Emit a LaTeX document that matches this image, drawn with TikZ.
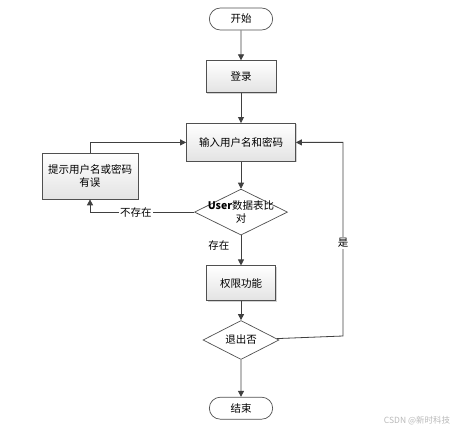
\documentclass[tikz,border=0pt]{standalone}
\usepackage{fontspec}
\setmainfont{Noto Sans CJK SC}
\usetikzlibrary{arrows.meta,positioning,shapes.geometric,shapes.misc,shadows}
\definecolor{lineg}{RGB}{64,64,64}
\definecolor{edgeg}{RGB}{80,80,80}

\begin{document}
\begin{tikzpicture}[
  x=1pt, y=-1pt,
  font=\fontsize{10.5}{13}\selectfont,
  node distance=30pt,
  term/.style={draw=edgeg, rounded rectangle, minimum width=70pt, minimum height=22pt, fill=white, line width=0.7pt},
  proc/.style={draw=edgeg, rectangle, minimum width=70pt, minimum height=32pt, align=center, top color=white, bottom color=gray!22, line width=0.7pt, drop shadow={shadow xshift=1pt, shadow yshift=-1pt, opacity=0.35}},
  decide/.style={draw=edgeg, diamond, aspect=2, inner sep=0pt, fill=white, line width=0.7pt},
  arrow/.style={-{Triangle[width=6pt,length=6pt]}, draw=lineg, line width=0.8pt}
]
\useasboundingbox (0,0) rectangle (458,433);

\node[term] (start) at (241,19) {开始};
\node[proc, below=30pt of start] (login) {登录};
\node[proc, below=30pt of login, minimum width=109pt, minimum height=38pt] (input) {输入用户名和密码};
\node[decide, below=27pt of input, minimum width=93pt, minimum height=46pt,
  label={[align=center, inner sep=0pt]center:\textbf{User}数据表比\\对}] (check) {};
\node[proc, below=30pt of check, minimum width=69pt, minimum height=35pt] (perm) {权限功能};
\node[decide, below=19pt of perm, minimum width=76pt, minimum height=39pt] (quit) {退出否};
\node[term, below=37pt of quit] (stop) {结束};
\node[proc, minimum width=96pt, minimum height=46pt] (hint) at (90,176) {提示用户名或密码\\有误};
\coordinate (back) at (343,336);

\draw[arrow] (start) -- (login);
\draw[arrow] (login) -- (input);
\draw[arrow] (input) -- (check);
\draw[arrow] (check) -- node[left=8pt, pos=0.35]{存在} (perm);
\draw[arrow] (perm) -- (quit);
\draw[arrow] (quit) -- (stop);
\draw[arrow] (check) -| node[pos=0.28, fill=white, inner sep=1pt]{不存在} (hint);
\draw[arrow] (hint) |- (input);
\draw[arrow] (quit) -- (back) |- node[pos=0.24, fill=white, inner sep=1pt]{是} (input);

\node[font=\fontsize{8.5}{10}\selectfont, text=gray!55] (mark) at (417,421) {CSDN @新时科技};
\end{tikzpicture}
\end{document}
